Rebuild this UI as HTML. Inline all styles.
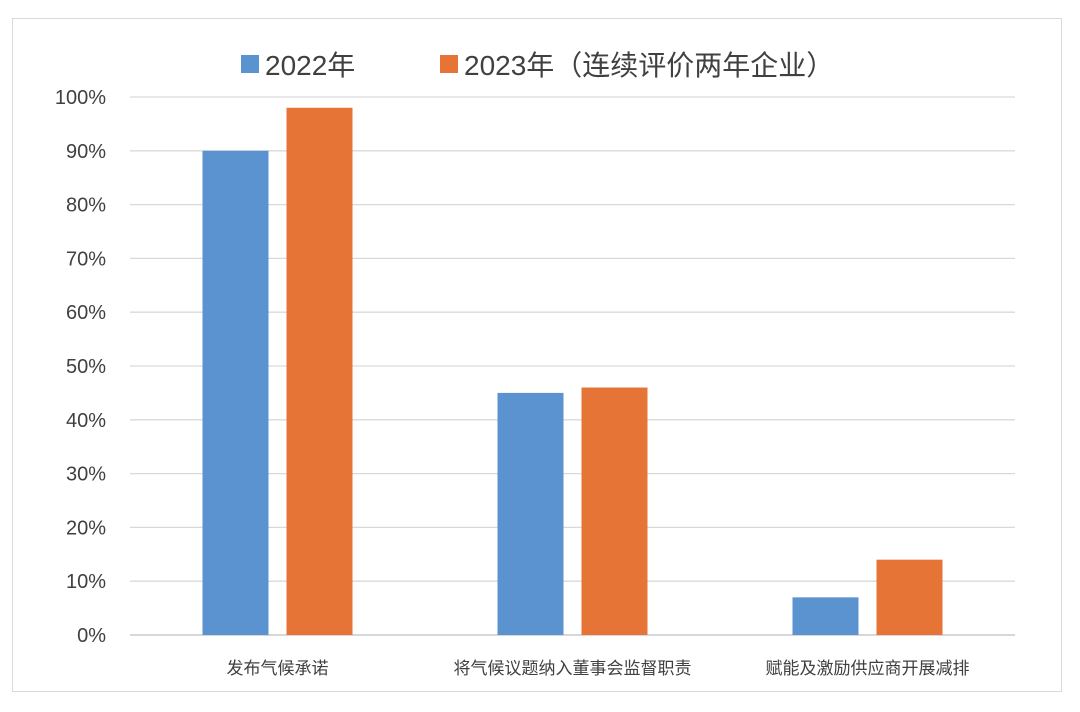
<!DOCTYPE html>
<html><head><meta charset="utf-8"><style>
body{margin:0;background:#fff;}
svg text{font-family:"Liberation Sans","Noto Sans CJK SC",sans-serif;}
</style></head><body>
<svg width="1080" height="707">
<rect x="12.5" y="18.5" width="1049" height="673" fill="#fff" stroke="#d9d9d9"/>
<g id="grid"></g><g id="bars"></g><g id="labels"></g>
<g>
<rect x="241" y="55" width="18" height="18" fill="#5b93d1"/>
<text x="265" y="75" font-size="28" fill="#404040">2022年</text>
<rect x="440" y="55" width="18" height="18" fill="#e57436"/>
<text x="464" y="75" font-size="28" fill="#404040">2023年（连续评价两年企业）</text>
</g>
</svg>
<script>
const categories=["发布气候承诺","将气候议题纳入董事会监督职责","赋能及激励供应商开展减排"];
const series2022=[90,45,7];
const series2023=[98,46,14];
const ticks=[0,10,20,30,40,50,60,70,80,90,100];
const x0=130,x1=1015,y0=635,y100=97;
const ns="http://www.w3.org/2000/svg";
const y=v=>y0-(y0-y100)*v/100;
const bw=(x1-x0)/categories.length;
function mk(t,a,p){const e=document.createElementNS(ns,t);for(const k in a)e.setAttribute(k,a[k]);p.appendChild(e);return e;}
const g=document.getElementById('grid'),b=document.getElementById('bars'),l=document.getElementById('labels');
ticks.forEach(t=>{
const ln=mk('line',{x1:x0,x2:x1,y1:y(t),y2:y(t),stroke:t===0?'#bfbfbf':'#d9d9d9','stroke-width':1.3},g);


const tx=mk('text',{x:106,y:y(t)+7,'text-anchor':'end','font-size':20,fill:'#404040'},g);
tx.textContent=t+'%';


});
categories.forEach((c,i)=>{
const cx=x0+bw*(i+0.5);
const r1=mk('rect',{x:cx-75,y:y(series2022[i]),width:66,height:y0-y(series2022[i]),fill:'#5b93d1'},b);


const r2=mk('rect',{x:cx+9,y:y(series2023[i]),width:66,height:y0-y(series2023[i]),fill:'#e57436'},b);


const t=mk('text',{x:cx,y:674,'text-anchor':'middle','font-size':17,fill:'#404040'},l);
t.textContent=c;


});
</script>
</body></html>
